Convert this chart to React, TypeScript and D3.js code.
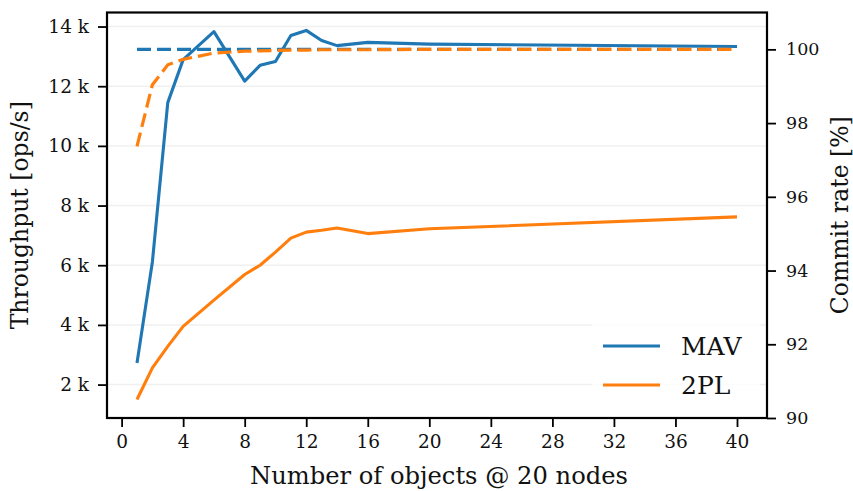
import { useEffect, useRef } from "react";
import * as d3 from "d3";

// x positions (number of objects)
const objects = [1, 2, 3, 4, 6, 8, 9, 10, 11, 12, 13, 14, 16, 20, 40];

// throughput in ops/s
const mavThroughput = [2720, 6110, 11450, 12890, 13830, 12170, 12700, 12830, 13700, 13870, 13530, 13360, 13470, 13410, 13330];
const tplThroughput = [1500, 2560, 3280, 3950, 4830, 5690, 6000, 6440, 6910, 7110, 7170, 7250, 7060, 7220, 7620];

// commit rate in %
const mavCommit = [100, 100, 100, 100, 100, 100, 100, 100, 100, 100, 100, 100, 100, 100, 100];
const tplCommit = [97.37, 99.04, 99.58, 99.73, 99.9, 99.95, 99.96, 99.97, 99.98, 99.98, 99.99, 99.99, 99.99, 100, 100];

const xTicks = [0, 4, 8, 12, 16, 20, 24, 28, 32, 36, 40];
const leftTicks = [2000, 4000, 6000, 8000, 10000, 12000, 14000];
const rightTicks = [90, 92, 94, 96, 98, 100];

const seriesNames = ["MAV", "2PL"];
const colors = ["#1f77b4", "#ff7f0e"];

const W = 853;
const H = 491;
const FONT = "'DejaVu Serif', serif";
const INK = "#111";

function renderChart(element: SVGSVGElement) {
  const margin = { top: 12.5, right: 86, bottom: 73, left: 107 };
  const width = W - margin.left - margin.right;
  const height = H - margin.top - margin.bottom;

  const root = d3.select(element);
  root.selectAll("*").remove();

  const svg = root
    .append("g")
    .attr("transform", `translate(${margin.left},${margin.top})`);

  const x = d3.scaleLinear().domain([-0.95, 41.95]).range([0, width]);
  const y = d3.scaleLinear().domain([880, 14470]).range([height, 0]);
  const y2 = d3.scaleLinear().domain([90, 101]).range([height, 0]);

  // grid
  svg
    .append("g")
    .selectAll("line")
    .data(leftTicks)
    .join("line")
    .attr("x1", 0)
    .attr("x2", width)
    .attr("y1", (d) => y(d))
    .attr("y2", (d) => y(d))
    .attr("stroke", "#f0f0f0")
    .attr("stroke-width", 1.5);

  const idx = objects.map((_, i) => i);

  const lineT = (vals: number[]) =>
    d3
      .line<number>()
      .x((i) => x(objects[i]))
      .y((i) => y(vals[i]))(idx);
  const lineC = (vals: number[]) =>
    d3
      .line<number>()
      .x((i) => x(objects[i]))
      .y((i) => y2(vals[i]))(idx);

  [mavThroughput, tplThroughput].forEach((vals, k) => {
    svg
      .append("path")
      .attr("d", lineT(vals))
      .attr("fill", "none")
      .attr("stroke", colors[k])
      .attr("stroke-width", 3.1)
      .attr("stroke-linejoin", "round");
  });

  [mavCommit, tplCommit].forEach((vals, k) => {
    svg
      .append("path")
      .attr("d", lineC(vals))
      .attr("fill", "none")
      .attr("stroke", colors[k])
      .attr("stroke-width", 3.2)
      .attr("stroke-dasharray", "14 6");
  });

  // axes
  const bottom = svg
    .append("g")
    .attr("transform", `translate(0,${height})`)
    .call(d3.axisBottom(x).tickValues(xTicks).tickSize(9).tickPadding(8).tickFormat(d3.format("d")));
  const left = svg
    .append("g")
    .call(
      d3
        .axisLeft(y)
        .tickValues(leftTicks)
        .tickSize(9)
        .tickPadding(9)
        .tickFormat((d) => `${+d / 1000} k`)
    );
  const right = svg
    .append("g")
    .attr("transform", `translate(${width},0)`)
    .call(d3.axisRight(y2).tickValues(rightTicks).tickSize(9).tickPadding(10));

  [bottom, left, right].forEach((g) => {
    g.select(".domain").remove();
    g.selectAll(".tick line").attr("stroke", "#000").attr("stroke-width", 1.8);
    g.selectAll(".tick text")
      .attr("font-family", FONT)
      .attr("font-size", 18.5)
      .attr("fill", INK);
  });
  right.selectAll(".tick text").attr("font-size", 17.5);

  // frame
  svg
    .append("rect")
    .attr("width", width)
    .attr("height", height)
    .attr("fill", "none")
    .attr("stroke", "#000")
    .attr("stroke-width", 2.2);

  // axis labels
  svg
    .append("text")
    .attr("x", width / 2 + 2)
    .attr("y", height + 66)
    .attr("text-anchor", "middle")
    .attr("font-family", FONT)
    .attr("font-size", 24.2)
    .attr("fill", INK)
    .text("Number of objects @ 20 nodes");

  svg
    .append("text")
    .attr("transform", `translate(${-79},${height / 2}) rotate(-90)`)
    .attr("text-anchor", "middle")
    .attr("font-family", FONT)
    .attr("font-size", 23.5)
    .attr("fill", INK)
    .text("Throughput [ops/s]");

  svg
    .append("text")
    .attr("transform", `translate(${width + 81},${height / 2}) rotate(-90)`)
    .attr("text-anchor", "middle")
    .attr("font-family", FONT)
    .attr("font-size", 23.5)
    .attr("fill", INK)
    .text("Commit rate [%]");

  // legend
  const lg = svg.append("g").attr("transform", `translate(${width - 175},${height - 96})`);
  lg.append("rect").attr("width", 168).attr("height", 86).attr("fill", "#fff").attr("opacity", 0.8);
  seriesNames.forEach((name, k) => {
    const row = lg.append("g").attr("transform", `translate(0,${24 + k * 39})`);
    row
      .append("line")
      .attr("x1", 11)
      .attr("x2", 68)
      .attr("stroke", colors[k])
      .attr("stroke-width", 3.2);
    row
      .append("text")
      .attr("x", 89)
      .attr("y", 9)
      .attr("font-family", FONT)
      .attr("font-size", 25)
      .attr("fill", INK)
      .text(name);
  });
}

export default function App() {
  const ref = useRef<SVGSVGElement>(null);
  useEffect(() => {
    if (ref.current) renderChart(ref.current);
  }, []);
  return (
    <svg
      ref={ref}
      width={W}
      height={H}
      style={{ position: "absolute", left: 0, top: 0, background: "#fff" }}
    />
  );
}
